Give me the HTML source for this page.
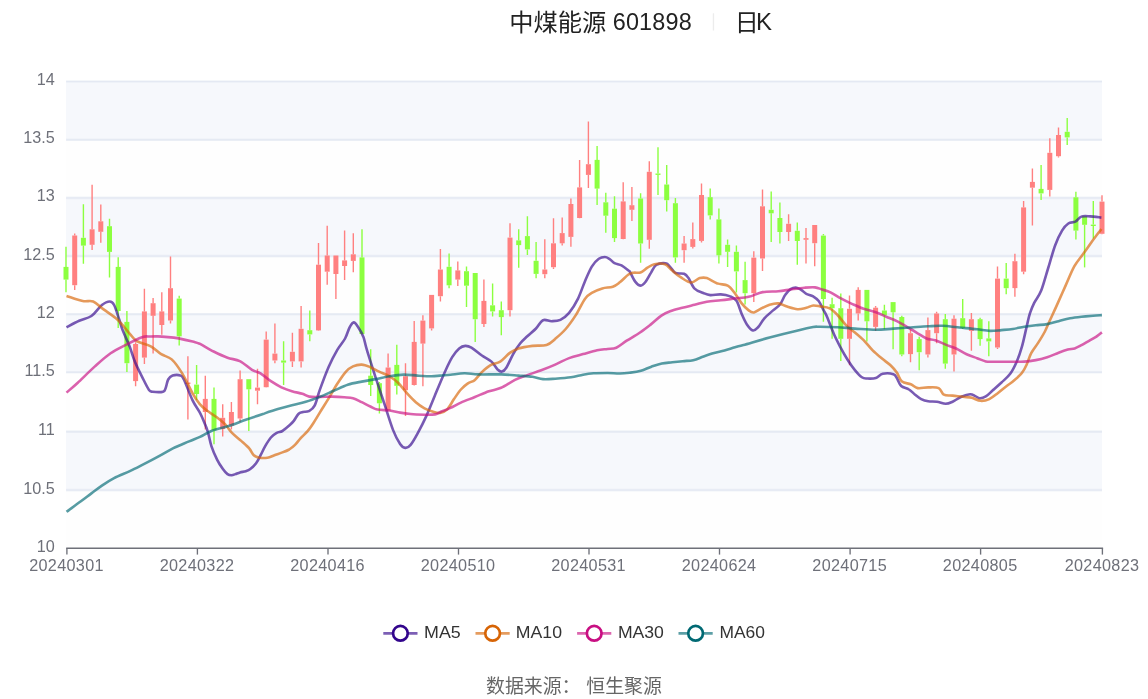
<!DOCTYPE html>
<html lang="zh"><head><meta charset="utf-8"><title>中煤能源 601898 日K</title>
<style>html,body{margin:0;padding:0;background:#fff}body{width:1148px;height:699px;overflow:hidden}svg{display:block;will-change:transform}text{font-family:"Liberation Sans","Noto Sans CJK SC",sans-serif}</style>
</head><body>
<svg width="1148" height="699" viewBox="0 0 1148 699">
<rect width="1148" height="699" fill="#fff"/>
<g id="bands">
<rect x="66.1" y="490.1" width="1035.9" height="58.1" fill="#FEFEFE"/>
<rect x="66.1" y="431.6" width="1035.9" height="58.5" fill="#F6F8FC"/>
<rect x="66.1" y="372.3" width="1035.9" height="59.3" fill="#FEFEFE"/>
<rect x="66.1" y="314.2" width="1035.9" height="58.1" fill="#F6F8FC"/>
<rect x="66.1" y="256.1" width="1035.9" height="58.1" fill="#FEFEFE"/>
<rect x="66.1" y="197.9" width="1035.9" height="58.2" fill="#F6F8FC"/>
<rect x="66.1" y="139.8" width="1035.9" height="58.1" fill="#FEFEFE"/>
<rect x="66.1" y="81.5" width="1035.9" height="58.3" fill="#F6F8FC"/>
</g>
<g id="grid" stroke="#E0E6F1">
<line x1="66.1" y1="490.1" x2="1102.0" y2="490.1" stroke-width="2.6" stroke-opacity="0.45"/>
<line x1="66.1" y1="490.1" x2="1102.0" y2="490.1" stroke-width="1.2" stroke-opacity="0.7"/>
<line x1="66.1" y1="431.6" x2="1102.0" y2="431.6" stroke-width="2.6" stroke-opacity="0.45"/>
<line x1="66.1" y1="431.6" x2="1102.0" y2="431.6" stroke-width="1.2" stroke-opacity="0.7"/>
<line x1="66.1" y1="372.3" x2="1102.0" y2="372.3" stroke-width="2.6" stroke-opacity="0.45"/>
<line x1="66.1" y1="372.3" x2="1102.0" y2="372.3" stroke-width="1.2" stroke-opacity="0.7"/>
<line x1="66.1" y1="314.2" x2="1102.0" y2="314.2" stroke-width="2.6" stroke-opacity="0.45"/>
<line x1="66.1" y1="314.2" x2="1102.0" y2="314.2" stroke-width="1.2" stroke-opacity="0.7"/>
<line x1="66.1" y1="256.1" x2="1102.0" y2="256.1" stroke-width="2.6" stroke-opacity="0.45"/>
<line x1="66.1" y1="256.1" x2="1102.0" y2="256.1" stroke-width="1.2" stroke-opacity="0.7"/>
<line x1="66.1" y1="197.9" x2="1102.0" y2="197.9" stroke-width="2.6" stroke-opacity="0.45"/>
<line x1="66.1" y1="197.9" x2="1102.0" y2="197.9" stroke-width="1.2" stroke-opacity="0.7"/>
<line x1="66.1" y1="139.8" x2="1102.0" y2="139.8" stroke-width="2.6" stroke-opacity="0.45"/>
<line x1="66.1" y1="139.8" x2="1102.0" y2="139.8" stroke-width="1.2" stroke-opacity="0.7"/>
<line x1="66.1" y1="81.5" x2="1102.0" y2="81.5" stroke-width="2.6" stroke-opacity="0.45"/>
<line x1="66.1" y1="81.5" x2="1102.0" y2="81.5" stroke-width="1.2" stroke-opacity="0.7"/>
</g>
<g id="xaxis" stroke="#6E7079" stroke-width="1.35" fill="none">
<line x1="66.2" y1="548.2" x2="1103.1" y2="548.2"/>
<line x1="66.9" y1="548.2" x2="66.9" y2="554.6"/>
<line x1="197.4" y1="548.2" x2="197.4" y2="554.6"/>
<line x1="328.0" y1="548.2" x2="328.0" y2="554.6"/>
<line x1="458.5" y1="548.2" x2="458.5" y2="554.6"/>
<line x1="589.0" y1="548.2" x2="589.0" y2="554.6"/>
<line x1="719.5" y1="548.2" x2="719.5" y2="554.6"/>
<line x1="850.1" y1="548.2" x2="850.1" y2="554.6"/>
<line x1="980.6" y1="548.2" x2="980.6" y2="554.6"/>
<line x1="1102.4" y1="548.2" x2="1102.4" y2="554.6"/>
</g>
<g id="ylabels" font-size="16.2" fill="#6E7079" text-anchor="end">
<text x="54.8" y="551.6">10</text>
<text x="54.8" y="493.5">10.5</text>
<text x="54.8" y="435.0">11</text>
<text x="54.8" y="375.7">11.5</text>
<text x="54.8" y="317.6">12</text>
<text x="54.8" y="259.5">12.5</text>
<text x="54.8" y="201.3">13</text>
<text x="54.8" y="143.2">13.5</text>
<text x="54.8" y="84.9">14</text>
</g>
<g id="xlabels" font-size="16.2" fill="#6E7079" text-anchor="middle" letter-spacing="0.33">
<text x="66.5" y="570.8">20240301</text>
<text x="197.0" y="570.8">20240322</text>
<text x="327.6" y="570.8">20240416</text>
<text x="458.1" y="570.8">20240510</text>
<text x="588.6" y="570.8">20240531</text>
<text x="719.1" y="570.8">20240624</text>
<text x="849.7" y="570.8">20240715</text>
<text x="980.2" y="570.8">20240805</text>
<text x="1102.0" y="570.8">20240823</text>
</g>
<g id="candles">
<path d="M66.0 246.8V266.9M66.0 279.6V292.2" stroke="#8CFF40" stroke-width="1.4" fill="none"/>
<rect x="63.5" y="266.9" width="5.0" height="12.7" fill="#8CFF40"/>
<path d="M74.7 233.4V235.5M74.7 285.2V289.9" stroke="#FF8080" stroke-width="1.4" fill="none"/>
<rect x="72.2" y="235.5" width="5.0" height="49.7" fill="#FF8080"/>
<path d="M83.4 204.3V237.8M83.4 245.6V263.7" stroke="#8CFF40" stroke-width="1.4" fill="none"/>
<rect x="80.9" y="237.8" width="5.0" height="7.8" fill="#8CFF40"/>
<path d="M92.1 184.8V229.3M92.1 244.8V249.9" stroke="#FF8080" stroke-width="1.4" fill="none"/>
<rect x="89.6" y="229.3" width="5.0" height="15.5" fill="#FF8080"/>
<path d="M100.8 204.5V221.3M100.8 231.8V242.7" stroke="#FF8080" stroke-width="1.4" fill="none"/>
<rect x="98.3" y="221.3" width="5.0" height="10.5" fill="#FF8080"/>
<path d="M109.5 218.7V226.2M109.5 251.9V277.4" stroke="#8CFF40" stroke-width="1.4" fill="none"/>
<rect x="107.0" y="226.2" width="5.0" height="25.7" fill="#8CFF40"/>
<path d="M118.2 257.3V266.9M118.2 311.0V328.0" stroke="#8CFF40" stroke-width="1.4" fill="none"/>
<rect x="115.7" y="266.9" width="5.0" height="44.1" fill="#8CFF40"/>
<path d="M126.9 310.9V321.9M126.9 363.2V371.9" stroke="#8CFF40" stroke-width="1.4" fill="none"/>
<rect x="124.4" y="321.9" width="5.0" height="41.3" fill="#8CFF40"/>
<path d="M135.6 342.2V344.0M135.6 381.1V386.2" stroke="#FF8080" stroke-width="1.4" fill="none"/>
<rect x="133.1" y="344.0" width="5.0" height="37.1" fill="#FF8080"/>
<path d="M144.4 288.7V311.4M144.4 357.6V364.0" stroke="#FF8080" stroke-width="1.4" fill="none"/>
<rect x="141.9" y="311.4" width="5.0" height="46.2" fill="#FF8080"/>
<path d="M153.1 298.0V303.2M153.1 315.8V353.6" stroke="#FF8080" stroke-width="1.4" fill="none"/>
<rect x="150.6" y="303.2" width="5.0" height="12.6" fill="#FF8080"/>
<path d="M161.8 292.2V311.4M161.8 325.0V334.7" stroke="#FF8080" stroke-width="1.4" fill="none"/>
<rect x="159.3" y="311.4" width="5.0" height="13.6" fill="#FF8080"/>
<path d="M170.5 256.4V288.2M170.5 320.5V323.6" stroke="#FF8080" stroke-width="1.4" fill="none"/>
<rect x="168.0" y="288.2" width="5.0" height="32.3" fill="#FF8080"/>
<path d="M179.2 295.7V298.6M179.2 336.3V345.4" stroke="#8CFF40" stroke-width="1.4" fill="none"/>
<rect x="176.7" y="298.6" width="5.0" height="37.7" fill="#8CFF40"/>
<path d="M187.9 356.2V382.5M187.9 384.0V419.4" stroke="#FF8080" stroke-width="1.4" fill="none"/>
<rect x="185.4" y="382.5" width="5.0" height="1.5" fill="#FF8080"/>
<path d="M196.6 364.9V384.6M196.6 394.0V399.9" stroke="#8CFF40" stroke-width="1.4" fill="none"/>
<rect x="194.1" y="384.6" width="5.0" height="9.4" fill="#8CFF40"/>
<path d="M205.3 375.7V398.9M205.3 412.0V429.5" stroke="#FF8080" stroke-width="1.4" fill="none"/>
<rect x="202.8" y="398.9" width="5.0" height="13.1" fill="#FF8080"/>
<path d="M214.0 387.6V398.9M214.0 430.3V444.3" stroke="#8CFF40" stroke-width="1.4" fill="none"/>
<rect x="211.5" y="398.9" width="5.0" height="31.4" fill="#8CFF40"/>
<path d="M222.7 404.2V417.8M222.7 429.1V436.5" stroke="#FF8080" stroke-width="1.4" fill="none"/>
<rect x="220.2" y="417.8" width="5.0" height="11.3" fill="#FF8080"/>
<path d="M231.4 401.9V412.0M231.4 425.6V429.5" stroke="#FF8080" stroke-width="1.4" fill="none"/>
<rect x="228.9" y="412.0" width="5.0" height="13.6" fill="#FF8080"/>
<path d="M240.1 370.5V379.2M240.1 418.5V422.1" stroke="#FF8080" stroke-width="1.4" fill="none"/>
<rect x="237.6" y="379.2" width="5.0" height="39.3" fill="#FF8080"/>
<path d="M248.8 379.2V379.2M248.8 389.3V430.9" stroke="#8CFF40" stroke-width="1.4" fill="none"/>
<rect x="246.3" y="379.2" width="5.0" height="10.1" fill="#8CFF40"/>
<path d="M257.5 368.7V387.6M257.5 390.7V404.2" stroke="#FF8080" stroke-width="1.4" fill="none"/>
<rect x="255.0" y="387.6" width="5.0" height="3.1" fill="#FF8080"/>
<path d="M266.2 331.5V339.6M266.2 387.2V387.6" stroke="#FF8080" stroke-width="1.4" fill="none"/>
<rect x="263.7" y="339.6" width="5.0" height="47.6" fill="#FF8080"/>
<path d="M274.9 323.6V353.6M274.9 360.5V363.2" stroke="#FF8080" stroke-width="1.4" fill="none"/>
<rect x="272.4" y="353.6" width="5.0" height="6.9" fill="#FF8080"/>
<path d="M283.6 341.3V360.5M283.6 362.6V385.0" stroke="#8CFF40" stroke-width="1.4" fill="none"/>
<rect x="281.1" y="360.5" width="5.0" height="2.1" fill="#8CFF40"/>
<path d="M292.4 332.7V351.8M292.4 361.4V367.0" stroke="#FF8080" stroke-width="1.4" fill="none"/>
<rect x="289.9" y="351.8" width="5.0" height="9.6" fill="#FF8080"/>
<path d="M301.1 306.1V328.8M301.1 361.4V367.5" stroke="#FF8080" stroke-width="1.4" fill="none"/>
<rect x="298.6" y="328.8" width="5.0" height="32.6" fill="#FF8080"/>
<path d="M309.8 310.6V330.2M309.8 334.4V341.3" stroke="#8CFF40" stroke-width="1.4" fill="none"/>
<rect x="307.3" y="330.2" width="5.0" height="4.2" fill="#8CFF40"/>
<path d="M318.5 242.9V264.7M318.5 330.4V330.9" stroke="#FF8080" stroke-width="1.4" fill="none"/>
<rect x="316.0" y="264.7" width="5.0" height="65.7" fill="#FF8080"/>
<path d="M327.2 225.8V255.5M327.2 271.7V284.8" stroke="#FF8080" stroke-width="1.4" fill="none"/>
<rect x="324.7" y="255.5" width="5.0" height="16.2" fill="#FF8080"/>
<path d="M335.9 255.5V255.5M335.9 274.0V299.1" stroke="#FF8080" stroke-width="1.4" fill="none"/>
<rect x="333.4" y="255.5" width="5.0" height="18.5" fill="#FF8080"/>
<path d="M344.6 230.4V260.4M344.6 266.0V279.9" stroke="#FF8080" stroke-width="1.4" fill="none"/>
<rect x="342.1" y="260.4" width="5.0" height="5.6" fill="#FF8080"/>
<path d="M353.3 233.3V254.3M353.3 260.9V272.2" stroke="#FF8080" stroke-width="1.4" fill="none"/>
<rect x="350.8" y="254.3" width="5.0" height="6.6" fill="#FF8080"/>
<path d="M362.0 229.3V257.4M362.0 334.0V334.4" stroke="#8CFF40" stroke-width="1.4" fill="none"/>
<rect x="359.5" y="257.4" width="5.0" height="76.6" fill="#8CFF40"/>
<path d="M370.7 349.2V375.7M370.7 385.0V396.0" stroke="#8CFF40" stroke-width="1.4" fill="none"/>
<rect x="368.2" y="375.7" width="5.0" height="9.3" fill="#8CFF40"/>
<path d="M379.4 382.0V383.2M379.4 403.3V413.4" stroke="#8CFF40" stroke-width="1.4" fill="none"/>
<rect x="376.9" y="383.2" width="5.0" height="20.1" fill="#8CFF40"/>
<path d="M388.1 353.6V367.5M388.1 410.6V411.0" stroke="#FF8080" stroke-width="1.4" fill="none"/>
<rect x="385.6" y="367.5" width="5.0" height="43.1" fill="#FF8080"/>
<path d="M396.8 344.8V364.9M396.8 385.8V394.6" stroke="#8CFF40" stroke-width="1.4" fill="none"/>
<rect x="394.3" y="364.9" width="5.0" height="20.9" fill="#8CFF40"/>
<path d="M405.5 363.2V376.2M405.5 390.2V415.9" stroke="#FF8080" stroke-width="1.4" fill="none"/>
<rect x="403.0" y="376.2" width="5.0" height="14.0" fill="#FF8080"/>
<path d="M414.2 321.1V341.9M414.2 385.0V385.5" stroke="#FF8080" stroke-width="1.4" fill="none"/>
<rect x="411.7" y="341.9" width="5.0" height="43.1" fill="#FF8080"/>
<path d="M422.9 315.3V320.6M422.9 343.6V386.2" stroke="#FF8080" stroke-width="1.4" fill="none"/>
<rect x="420.4" y="320.6" width="5.0" height="23.0" fill="#FF8080"/>
<path d="M431.6 294.9V294.9M431.6 328.4V330.5" stroke="#FF8080" stroke-width="1.4" fill="none"/>
<rect x="429.1" y="294.9" width="5.0" height="33.5" fill="#FF8080"/>
<path d="M440.4 249.0V269.5M440.4 296.2V301.4" stroke="#FF8080" stroke-width="1.4" fill="none"/>
<rect x="437.9" y="269.5" width="5.0" height="26.7" fill="#FF8080"/>
<path d="M449.1 253.4V266.8M449.1 285.3V288.3" stroke="#8CFF40" stroke-width="1.4" fill="none"/>
<rect x="446.6" y="266.8" width="5.0" height="18.5" fill="#8CFF40"/>
<path d="M457.8 261.6V270.4M457.8 279.6V286.1" stroke="#FF8080" stroke-width="1.4" fill="none"/>
<rect x="455.3" y="270.4" width="5.0" height="9.2" fill="#FF8080"/>
<path d="M466.5 266.5V271.2M466.5 285.7V307.0" stroke="#8CFF40" stroke-width="1.4" fill="none"/>
<rect x="464.0" y="271.2" width="5.0" height="14.5" fill="#8CFF40"/>
<path d="M475.2 273.0V273.0M475.2 319.2V341.9" stroke="#8CFF40" stroke-width="1.4" fill="none"/>
<rect x="472.7" y="273.0" width="5.0" height="46.2" fill="#8CFF40"/>
<path d="M483.9 279.5V300.9M483.9 324.0V327.1" stroke="#FF8080" stroke-width="1.4" fill="none"/>
<rect x="481.4" y="300.9" width="5.0" height="23.1" fill="#FF8080"/>
<path d="M492.6 283.5V305.3M492.6 311.4V316.6" stroke="#8CFF40" stroke-width="1.4" fill="none"/>
<rect x="490.1" y="305.3" width="5.0" height="6.1" fill="#8CFF40"/>
<path d="M501.3 301.4V310.2M501.3 317.1V335.3" stroke="#8CFF40" stroke-width="1.4" fill="none"/>
<rect x="498.8" y="310.2" width="5.0" height="6.9" fill="#8CFF40"/>
<path d="M510.0 223.2V237.6M510.0 310.2V316.6" stroke="#FF8080" stroke-width="1.4" fill="none"/>
<rect x="507.5" y="237.6" width="5.0" height="72.6" fill="#FF8080"/>
<path d="M518.7 229.3V240.4M518.7 245.1V267.8" stroke="#8CFF40" stroke-width="1.4" fill="none"/>
<rect x="516.2" y="240.4" width="5.0" height="4.7" fill="#8CFF40"/>
<path d="M527.4 216.2V236.1M527.4 249.4V255.0" stroke="#8CFF40" stroke-width="1.4" fill="none"/>
<rect x="524.9" y="236.1" width="5.0" height="13.3" fill="#8CFF40"/>
<path d="M536.1 242.1V260.8M536.1 273.9V278.2" stroke="#8CFF40" stroke-width="1.4" fill="none"/>
<rect x="533.6" y="260.8" width="5.0" height="13.1" fill="#8CFF40"/>
<path d="M544.8 239.3V269.5M544.8 274.2V278.2" stroke="#FF8080" stroke-width="1.4" fill="none"/>
<rect x="542.3" y="269.5" width="5.0" height="4.7" fill="#FF8080"/>
<path d="M553.5 218.3V243.3M553.5 267.2V269.0" stroke="#FF8080" stroke-width="1.4" fill="none"/>
<rect x="551.0" y="243.3" width="5.0" height="23.9" fill="#FF8080"/>
<path d="M562.2 217.6V233.1M562.2 243.3V245.6" stroke="#FF8080" stroke-width="1.4" fill="none"/>
<rect x="559.7" y="233.1" width="5.0" height="10.2" fill="#FF8080"/>
<path d="M570.9 198.4V204.0M570.9 236.9V246.8" stroke="#FF8080" stroke-width="1.4" fill="none"/>
<rect x="568.4" y="204.0" width="5.0" height="32.9" fill="#FF8080"/>
<path d="M579.6 160.0V187.4M579.6 218.0V218.3" stroke="#FF8080" stroke-width="1.4" fill="none"/>
<rect x="577.1" y="187.4" width="5.0" height="30.6" fill="#FF8080"/>
<path d="M588.4 121.6V164.2M588.4 174.9V187.9" stroke="#FF8080" stroke-width="1.4" fill="none"/>
<rect x="585.9" y="164.2" width="5.0" height="10.7" fill="#FF8080"/>
<path d="M597.1 146.1V159.9M597.1 188.6V204.9" stroke="#8CFF40" stroke-width="1.4" fill="none"/>
<rect x="594.6" y="159.9" width="5.0" height="28.7" fill="#8CFF40"/>
<path d="M605.8 192.7V202.3M605.8 215.7V232.8" stroke="#8CFF40" stroke-width="1.4" fill="none"/>
<rect x="603.3" y="202.3" width="5.0" height="13.4" fill="#8CFF40"/>
<path d="M614.5 196.2V208.7M614.5 238.1V242.1" stroke="#8CFF40" stroke-width="1.4" fill="none"/>
<rect x="612.0" y="208.7" width="5.0" height="29.4" fill="#8CFF40"/>
<path d="M623.2 182.2V201.4M623.2 239.0V239.3" stroke="#FF8080" stroke-width="1.4" fill="none"/>
<rect x="620.7" y="201.4" width="5.0" height="37.6" fill="#FF8080"/>
<path d="M631.9 186.9V205.2M631.9 209.8V220.9" stroke="#FF8080" stroke-width="1.4" fill="none"/>
<rect x="629.4" y="205.2" width="5.0" height="4.6" fill="#FF8080"/>
<path d="M640.6 193.2V198.5M640.6 243.5V262.7" stroke="#8CFF40" stroke-width="1.4" fill="none"/>
<rect x="638.1" y="198.5" width="5.0" height="45.0" fill="#8CFF40"/>
<path d="M649.3 161.3V171.8M649.3 239.8V248.7" stroke="#FF8080" stroke-width="1.4" fill="none"/>
<rect x="646.8" y="171.8" width="5.0" height="68.0" fill="#FF8080"/>
<path d="M658.0 147.3V173.5M658.0 174.9V195.0" stroke="#8CFF40" stroke-width="1.4" fill="none"/>
<rect x="655.5" y="173.5" width="5.0" height="1.4" fill="#8CFF40"/>
<path d="M666.7 165.0V184.5M666.7 200.2V211.6" stroke="#8CFF40" stroke-width="1.4" fill="none"/>
<rect x="664.2" y="184.5" width="5.0" height="15.7" fill="#8CFF40"/>
<path d="M675.4 197.9V203.2M675.4 257.4V262.7" stroke="#8CFF40" stroke-width="1.4" fill="none"/>
<rect x="672.9" y="203.2" width="5.0" height="54.2" fill="#8CFF40"/>
<path d="M684.1 236.0V243.5M684.1 250.2V262.7" stroke="#FF8080" stroke-width="1.4" fill="none"/>
<rect x="681.6" y="243.5" width="5.0" height="6.7" fill="#FF8080"/>
<path d="M692.8 222.4V239.1M692.8 246.9V248.5" stroke="#FF8080" stroke-width="1.4" fill="none"/>
<rect x="690.3" y="239.1" width="5.0" height="7.8" fill="#FF8080"/>
<path d="M701.5 183.6V195.0M701.5 240.9V242.5" stroke="#FF8080" stroke-width="1.4" fill="none"/>
<rect x="699.0" y="195.0" width="5.0" height="45.9" fill="#FF8080"/>
<path d="M710.2 188.5V197.2M710.2 215.4V219.4" stroke="#8CFF40" stroke-width="1.4" fill="none"/>
<rect x="707.7" y="197.2" width="5.0" height="18.2" fill="#8CFF40"/>
<path d="M718.9 208.4V219.4M718.9 255.3V263.6" stroke="#8CFF40" stroke-width="1.4" fill="none"/>
<rect x="716.4" y="219.4" width="5.0" height="35.9" fill="#8CFF40"/>
<path d="M727.6 239.5V244.8M727.6 251.8V267.0" stroke="#8CFF40" stroke-width="1.4" fill="none"/>
<rect x="725.1" y="244.8" width="5.0" height="7.0" fill="#8CFF40"/>
<path d="M736.4 245.6V251.8M736.4 271.4V292.4" stroke="#8CFF40" stroke-width="1.4" fill="none"/>
<rect x="733.9" y="251.8" width="5.0" height="19.6" fill="#8CFF40"/>
<path d="M745.1 261.8V280.1M745.1 293.2V304.6" stroke="#8CFF40" stroke-width="1.4" fill="none"/>
<rect x="742.6" y="280.1" width="5.0" height="13.1" fill="#8CFF40"/>
<path d="M753.8 251.3V257.6M753.8 293.2V302.0" stroke="#FF8080" stroke-width="1.4" fill="none"/>
<rect x="751.3" y="257.6" width="5.0" height="35.6" fill="#FF8080"/>
<path d="M762.5 189.4V206.3M762.5 258.5V271.1" stroke="#FF8080" stroke-width="1.4" fill="none"/>
<rect x="760.0" y="206.3" width="5.0" height="52.2" fill="#FF8080"/>
<path d="M771.2 191.5V209.8M771.2 213.3V242.0" stroke="#8CFF40" stroke-width="1.4" fill="none"/>
<rect x="768.7" y="209.8" width="5.0" height="3.5" fill="#8CFF40"/>
<path d="M779.9 202.5V218.0M779.9 232.0V243.6" stroke="#8CFF40" stroke-width="1.4" fill="none"/>
<rect x="777.4" y="218.0" width="5.0" height="14.0" fill="#8CFF40"/>
<path d="M788.6 214.2V223.8M788.6 232.0V240.9" stroke="#FF8080" stroke-width="1.4" fill="none"/>
<rect x="786.1" y="223.8" width="5.0" height="8.2" fill="#FF8080"/>
<path d="M797.3 222.4V230.8M797.3 241.0V264.8" stroke="#8CFF40" stroke-width="1.4" fill="none"/>
<rect x="794.8" y="230.8" width="5.0" height="10.2" fill="#8CFF40"/>
<path d="M806.0 228.1V238.1M806.0 239.8V263.6" stroke="#FF8080" stroke-width="1.4" fill="none"/>
<rect x="803.5" y="238.1" width="5.0" height="1.7" fill="#FF8080"/>
<path d="M814.7 225.0V225.0M814.7 243.2V266.2" stroke="#FF8080" stroke-width="1.4" fill="none"/>
<rect x="812.2" y="225.0" width="5.0" height="18.2" fill="#FF8080"/>
<path d="M823.4 233.9V235.6M823.4 299.0V321.7" stroke="#8CFF40" stroke-width="1.4" fill="none"/>
<rect x="820.9" y="235.6" width="5.0" height="63.4" fill="#8CFF40"/>
<path d="M832.1 297.8V304.2M832.1 308.2V338.8" stroke="#8CFF40" stroke-width="1.4" fill="none"/>
<rect x="829.6" y="304.2" width="5.0" height="4.0" fill="#8CFF40"/>
<path d="M840.8 293.4V308.2M840.8 338.8V361.1" stroke="#8CFF40" stroke-width="1.4" fill="none"/>
<rect x="838.3" y="308.2" width="5.0" height="30.6" fill="#8CFF40"/>
<path d="M849.5 295.5V308.8M849.5 338.8V365.3" stroke="#FF8080" stroke-width="1.4" fill="none"/>
<rect x="847.0" y="308.8" width="5.0" height="30.0" fill="#FF8080"/>
<path d="M858.2 287.3V289.9M858.2 313.5V320.5" stroke="#FF8080" stroke-width="1.4" fill="none"/>
<rect x="855.7" y="289.9" width="5.0" height="23.6" fill="#FF8080"/>
<path d="M866.9 289.9V289.9M866.9 321.3V341.4" stroke="#8CFF40" stroke-width="1.4" fill="none"/>
<rect x="864.4" y="289.9" width="5.0" height="31.4" fill="#8CFF40"/>
<path d="M875.6 306.0V307.7M875.6 326.9V330.9" stroke="#FF8080" stroke-width="1.4" fill="none"/>
<rect x="873.1" y="307.7" width="5.0" height="19.2" fill="#FF8080"/>
<path d="M884.4 304.8V310.5M884.4 315.2V329.2" stroke="#8CFF40" stroke-width="1.4" fill="none"/>
<rect x="881.9" y="310.5" width="5.0" height="4.7" fill="#8CFF40"/>
<path d="M893.1 302.1V302.1M893.1 312.3V349.3" stroke="#8CFF40" stroke-width="1.4" fill="none"/>
<rect x="890.6" y="302.1" width="5.0" height="10.2" fill="#8CFF40"/>
<path d="M901.8 315.8V317.0M901.8 354.5V356.2" stroke="#8CFF40" stroke-width="1.4" fill="none"/>
<rect x="899.3" y="317.0" width="5.0" height="37.5" fill="#8CFF40"/>
<path d="M910.5 329.2V333.2M910.5 354.1V362.3" stroke="#FF8080" stroke-width="1.4" fill="none"/>
<rect x="908.0" y="333.2" width="5.0" height="20.9" fill="#FF8080"/>
<path d="M919.2 336.7V339.1M919.2 352.2V370.2" stroke="#8CFF40" stroke-width="1.4" fill="none"/>
<rect x="916.7" y="339.1" width="5.0" height="13.1" fill="#8CFF40"/>
<path d="M927.9 317.5V330.1M927.9 354.5V357.6" stroke="#FF8080" stroke-width="1.4" fill="none"/>
<rect x="925.4" y="330.1" width="5.0" height="24.4" fill="#FF8080"/>
<path d="M936.6 311.7V313.5M936.6 333.2V343.2" stroke="#FF8080" stroke-width="1.4" fill="none"/>
<rect x="934.1" y="313.5" width="5.0" height="19.7" fill="#FF8080"/>
<path d="M945.3 314.0V319.2M945.3 363.6V368.8" stroke="#8CFF40" stroke-width="1.4" fill="none"/>
<rect x="942.8" y="319.2" width="5.0" height="44.4" fill="#8CFF40"/>
<path d="M954.0 315.2V318.7M954.0 354.5V371.6" stroke="#FF8080" stroke-width="1.4" fill="none"/>
<rect x="951.5" y="318.7" width="5.0" height="35.8" fill="#FF8080"/>
<path d="M962.7 299.0V318.2M962.7 328.0V329.0" stroke="#8CFF40" stroke-width="1.4" fill="none"/>
<rect x="960.2" y="318.2" width="5.0" height="9.8" fill="#8CFF40"/>
<path d="M971.4 313.0V319.2M971.4 330.9V350.7" stroke="#FF8080" stroke-width="1.4" fill="none"/>
<rect x="968.9" y="319.2" width="5.0" height="11.7" fill="#FF8080"/>
<path d="M980.1 317.8V319.2M980.1 339.1V345.8" stroke="#8CFF40" stroke-width="1.4" fill="none"/>
<rect x="977.6" y="319.2" width="5.0" height="19.9" fill="#8CFF40"/>
<path d="M988.8 321.3V338.4M988.8 341.4V356.2" stroke="#8CFF40" stroke-width="1.4" fill="none"/>
<rect x="986.3" y="338.4" width="5.0" height="3.0" fill="#8CFF40"/>
<path d="M997.5 266.4V278.6M997.5 347.5V348.9" stroke="#FF8080" stroke-width="1.4" fill="none"/>
<rect x="995.0" y="278.6" width="5.0" height="68.9" fill="#FF8080"/>
<path d="M1006.2 262.9V278.6M1006.2 288.2V294.3" stroke="#8CFF40" stroke-width="1.4" fill="none"/>
<rect x="1003.7" y="278.6" width="5.0" height="9.6" fill="#8CFF40"/>
<path d="M1014.9 253.7V261.2M1014.9 288.1V296.8" stroke="#FF8080" stroke-width="1.4" fill="none"/>
<rect x="1012.4" y="261.2" width="5.0" height="26.9" fill="#FF8080"/>
<path d="M1023.6 201.1V207.4M1023.6 271.7V274.3" stroke="#FF8080" stroke-width="1.4" fill="none"/>
<rect x="1021.1" y="207.4" width="5.0" height="64.3" fill="#FF8080"/>
<path d="M1032.4 168.5V181.9M1032.4 187.7V225.6" stroke="#FF8080" stroke-width="1.4" fill="none"/>
<rect x="1029.9" y="181.9" width="5.0" height="5.8" fill="#FF8080"/>
<path d="M1041.1 165.0V188.9M1041.1 193.4V199.9" stroke="#8CFF40" stroke-width="1.4" fill="none"/>
<rect x="1038.6" y="188.9" width="5.0" height="4.5" fill="#8CFF40"/>
<path d="M1049.8 138.3V152.8M1049.8 189.9V196.4" stroke="#FF8080" stroke-width="1.4" fill="none"/>
<rect x="1047.3" y="152.8" width="5.0" height="37.1" fill="#FF8080"/>
<path d="M1058.5 127.5V135.0M1058.5 156.2V157.5" stroke="#FF8080" stroke-width="1.4" fill="none"/>
<rect x="1056.0" y="135.0" width="5.0" height="21.2" fill="#FF8080"/>
<path d="M1067.2 117.9V131.8M1067.2 137.4V144.9" stroke="#8CFF40" stroke-width="1.4" fill="none"/>
<rect x="1064.7" y="131.8" width="5.0" height="5.6" fill="#8CFF40"/>
<path d="M1075.9 191.7V197.3M1075.9 230.6V239.4" stroke="#8CFF40" stroke-width="1.4" fill="none"/>
<rect x="1073.4" y="197.3" width="5.0" height="33.3" fill="#8CFF40"/>
<path d="M1084.6 216.3V216.3M1084.6 224.8V267.4" stroke="#8CFF40" stroke-width="1.4" fill="none"/>
<rect x="1082.1" y="216.3" width="5.0" height="8.5" fill="#8CFF40"/>
<path d="M1093.3 201.1V224.6M1093.3 226.0V238.6" stroke="#8CFF40" stroke-width="1.4" fill="none"/>
<rect x="1090.8" y="224.6" width="5.0" height="1.4" fill="#8CFF40"/>
<path d="M1102.0 195.2V201.6M1102.0 233.8V234.2" stroke="#FF8080" stroke-width="1.4" fill="none"/>
<rect x="1099.5" y="201.6" width="5.0" height="32.2" fill="#FF8080"/>
</g>
<g id="ma" fill="none" stroke-width="2.6" stroke-linejoin="round" stroke-linecap="butt" stroke-opacity="0.66" transform="translate(0,0.6)">
<path d="M66.5 326.7C68.6 325.6 75.0 322.0 79.2 320.1C83.4 318.2 87.6 318.0 91.4 315.4C95.2 312.8 98.9 306.8 101.9 304.4C105.0 302.0 107.7 300.9 109.7 300.9C111.7 300.9 112.5 301.3 114.1 304.4C115.7 307.4 117.8 314.9 119.3 319.2C120.8 323.5 121.0 325.5 122.8 330.0C124.5 334.5 127.8 341.1 129.8 346.3C131.8 351.5 132.7 355.8 135.0 361.4C137.3 367.0 141.5 375.0 143.8 379.7C146.1 384.4 147.6 387.4 149.0 389.3C150.4 391.2 150.2 390.8 152.5 391.1C154.8 391.4 160.8 391.7 163.0 391.1C165.2 390.5 164.7 389.6 165.6 387.6C166.5 385.6 167.0 381.0 168.2 378.9C169.4 376.8 170.6 375.7 172.6 375.0C174.6 374.3 178.5 374.2 180.4 374.9C182.3 375.5 181.9 374.8 183.9 378.9C185.9 383.0 189.9 394.2 192.6 399.8C195.3 405.4 198.0 408.5 200.0 412.3C202.0 416.1 203.3 419.4 204.6 422.6C205.9 425.8 206.9 427.9 208.0 431.7C209.1 435.5 209.9 440.9 211.4 445.5C212.9 450.1 215.3 455.4 217.2 459.2C219.1 463.0 221.2 466.0 222.9 468.4C224.6 470.8 226.1 472.5 227.5 473.5C228.9 474.5 230.2 474.6 231.5 474.6C232.8 474.6 234.1 474.0 235.5 473.5C236.9 473.0 238.3 472.3 240.0 471.8C241.7 471.3 244.1 471.2 245.8 470.6C247.5 470.0 248.6 469.7 250.3 468.4C252.0 467.1 254.4 464.9 256.1 462.6C257.8 460.3 259.1 457.5 260.6 454.6C262.1 451.8 263.5 448.4 265.2 445.5C266.9 442.6 269.0 439.1 270.9 436.9C272.8 434.7 274.8 433.4 276.7 432.3C278.6 431.2 280.3 431.6 282.4 430.4C284.5 429.2 287.3 426.6 289.2 424.9C291.1 423.2 292.3 422.2 293.8 420.3C295.3 418.4 296.9 414.9 298.4 413.4C299.9 411.9 301.3 411.9 303.0 411.4C304.7 410.9 306.8 411.7 308.7 410.6C310.6 409.5 312.8 408.6 314.6 405.0C316.5 401.4 317.5 395.7 319.8 389.3C322.1 382.9 325.6 373.3 328.5 366.6C331.4 359.9 334.5 354.0 337.3 349.2C340.1 344.4 343.1 341.6 345.1 337.9C347.1 334.2 348.1 329.7 349.5 327.0C350.9 324.3 352.4 321.9 353.8 321.8C355.2 321.8 356.6 324.3 358.2 326.7C359.8 329.1 361.9 332.6 363.4 336.3C364.8 340.1 364.8 342.4 366.9 349.2C368.9 356.0 372.8 368.1 375.7 377.1C378.6 386.1 381.5 394.6 384.4 403.3C387.3 412.0 390.5 422.8 393.1 429.5C395.7 436.2 398.1 440.4 400.1 443.4C402.1 446.4 403.6 447.1 405.3 447.3C407.1 447.5 408.6 446.7 410.6 444.3C412.6 441.9 414.9 437.8 417.5 433.0C420.1 428.2 423.4 421.9 426.3 415.5C429.2 409.1 431.9 402.1 435.0 394.6C438.1 387.1 442.3 376.9 445.2 370.6C448.1 364.3 449.9 360.4 452.2 356.6C454.5 352.8 457.0 349.8 459.2 347.9C461.4 346.0 463.3 345.4 465.3 345.3C467.3 345.2 468.6 345.4 471.4 347.0C474.2 348.6 478.5 352.6 481.9 354.9C485.2 357.2 488.9 358.7 491.5 361.0C494.1 363.3 495.9 367.2 497.6 368.9C499.4 370.6 500.6 371.3 502.0 371.0C503.4 370.7 504.4 370.1 506.3 367.1C508.2 364.1 511.0 357.3 513.3 353.2C515.6 349.1 518.0 345.6 520.3 342.7C522.6 339.8 524.7 338.2 527.3 335.7C529.9 333.2 533.4 330.6 536.0 327.9C538.6 325.2 540.4 320.8 543.0 319.6C545.6 318.4 548.8 320.7 551.7 320.6C554.6 320.5 557.5 320.6 560.4 319.2C563.3 317.8 566.2 315.8 569.1 312.3C572.0 308.8 575.3 303.6 577.9 298.3C580.5 293.1 582.6 286.2 584.9 280.8C587.2 275.4 589.5 269.8 591.8 266.0C594.1 262.2 596.6 259.8 598.8 258.2C601.0 256.6 603.1 256.4 604.9 256.4C606.6 256.4 607.7 257.2 609.3 258.2C610.9 259.2 612.5 261.4 614.5 262.5C616.5 263.6 619.2 263.6 621.5 264.8C623.8 266.1 627.1 268.9 628.5 270.0C629.9 271.1 628.9 269.6 630.0 271.4C631.1 273.2 633.4 278.7 635.2 281.0C637.0 283.3 639.0 285.0 640.8 285.0C642.5 285.0 644.0 283.1 645.7 281.0C647.4 278.9 649.1 275.1 650.9 272.3C652.6 269.5 653.7 266.0 656.2 264.4C658.7 262.8 663.5 262.4 665.8 262.7C668.1 263.0 668.5 264.6 670.1 266.2C671.7 267.8 673.1 271.1 675.4 272.3C677.7 273.5 681.9 272.3 684.1 273.2C686.3 274.1 686.8 275.0 688.5 277.5C690.2 280.0 692.1 285.5 694.6 288.0C697.1 290.5 700.7 291.3 703.3 292.4C705.9 293.5 707.4 294.3 710.3 294.5C713.2 294.7 717.6 293.6 720.8 293.8C724.0 294.0 726.9 294.4 729.5 295.5C732.1 296.6 734.5 297.2 736.5 300.2C738.5 303.2 740.0 309.4 741.7 313.3C743.4 317.2 745.0 321.0 746.9 323.8C748.8 326.6 751.1 329.5 753.0 329.9C754.9 330.3 756.4 328.4 758.3 326.4C760.2 324.4 761.9 320.5 764.4 317.7C766.9 314.9 770.5 312.1 773.1 309.8C775.7 307.5 778.1 306.3 780.1 303.7C782.1 301.1 783.5 296.6 785.3 294.1C787.0 291.6 788.7 289.7 790.6 288.5C792.5 287.3 794.8 286.9 796.7 287.1C798.6 287.3 800.3 288.7 801.9 289.7C803.5 290.7 804.4 292.2 806.3 293.2C808.2 294.2 811.2 294.6 813.2 295.8C815.2 297.0 816.8 297.9 818.5 300.2C820.2 302.5 822.3 307.1 823.7 309.8C825.1 312.5 825.3 312.1 827.0 316.1C828.7 320.1 831.7 328.4 834.0 333.6C836.3 338.8 838.6 343.1 840.9 347.5C843.2 351.9 845.6 356.0 847.9 359.7C850.2 363.4 852.6 366.7 854.9 369.5C857.2 372.3 859.9 375.3 861.9 376.7C863.9 378.1 864.8 377.8 867.1 377.9C869.4 378.0 873.2 378.2 875.8 377.4C878.4 376.6 879.9 373.8 882.8 373.2C885.7 372.6 891.0 372.9 893.3 373.6C895.6 374.3 895.5 375.4 896.8 377.4C898.1 379.4 899.2 383.5 901.2 385.4C903.2 387.3 906.7 387.4 909.0 388.9C911.3 390.3 913.1 392.5 915.1 394.1C917.1 395.7 919.0 397.4 921.2 398.5C923.4 399.6 925.6 400.3 928.2 400.7C930.8 401.1 934.0 400.7 936.9 401.1C939.8 401.5 943.1 403.2 945.7 403.2C948.3 403.2 950.0 402.3 952.6 401.1C955.2 399.9 958.5 397.4 961.4 396.2C964.3 394.9 967.8 393.7 970.1 393.6C972.4 393.5 973.7 394.8 975.3 395.5C976.9 396.2 978.0 397.6 979.7 397.6C981.5 397.7 983.6 397.1 985.8 395.8C988.0 394.5 990.2 392.0 992.8 389.7C995.4 387.4 998.6 384.6 1001.5 381.9C1004.4 379.1 1007.6 376.8 1010.2 373.2C1012.8 369.6 1014.9 365.2 1016.9 360.6C1018.9 356.0 1020.4 351.5 1022.0 345.8C1023.6 340.1 1025.3 331.8 1026.6 326.3C1027.9 320.8 1028.7 316.6 1030.0 312.6C1031.3 308.6 1032.3 306.1 1034.2 302.3C1036.1 298.5 1038.9 295.8 1041.2 290.0C1043.5 284.2 1045.9 274.9 1048.2 267.4C1050.5 259.8 1052.9 251.0 1055.2 244.7C1057.5 238.4 1060.0 233.4 1062.2 229.8C1064.4 226.2 1066.1 224.4 1068.3 222.9C1070.5 221.4 1073.1 222.2 1075.3 221.1C1077.5 219.9 1078.9 216.9 1081.4 216.0C1083.9 215.1 1086.8 215.6 1090.1 215.8C1093.4 216.0 1099.5 216.8 1101.4 217.0" stroke="#32058C"/>
<path d="M66.5 295.3C69.2 296.1 78.2 299.5 82.7 300.4C87.2 301.3 89.7 299.5 93.2 300.9C96.7 302.3 99.5 305.8 103.6 308.8C107.7 311.9 113.2 315.1 117.6 319.2C122.0 323.3 126.6 329.6 129.8 333.2C133.0 336.8 133.3 338.4 136.8 340.5C140.3 342.6 146.7 343.5 150.8 345.7C154.9 347.9 157.7 351.4 161.2 353.6C164.7 355.8 168.2 355.6 171.7 358.8C175.2 362.0 178.7 367.1 182.2 372.8C185.7 378.5 189.7 387.7 192.6 392.8C195.5 397.9 197.2 400.4 199.6 403.3C202.0 406.2 204.0 407.7 206.9 410.0C209.8 412.3 214.1 414.6 217.2 416.9C220.2 419.2 222.7 421.1 225.2 423.7C227.7 426.3 229.3 429.5 232.0 432.3C234.7 435.1 238.3 437.7 241.2 440.3C244.1 442.9 247.1 445.4 249.2 447.8C251.3 450.2 252.1 453.1 253.8 454.6C255.5 456.2 257.2 456.7 259.5 457.1C261.8 457.5 265.0 457.5 267.5 457.1C270.0 456.7 271.9 455.5 274.4 454.6C276.9 453.7 279.9 452.8 282.4 451.8C284.9 450.9 287.1 450.1 289.2 448.9C291.3 447.6 293.1 446.2 295.0 444.3C296.9 442.4 298.6 439.8 300.7 437.5C302.8 435.2 305.5 433.1 307.6 430.6C309.7 428.1 311.3 425.7 313.3 422.6C315.3 419.5 317.3 416.1 319.8 412.0C322.3 407.9 325.6 402.9 328.5 398.1C331.4 393.3 334.4 387.7 337.3 383.2C340.2 378.7 343.4 373.9 346.0 371.0C348.6 368.1 350.4 367.0 353.0 365.8C355.6 364.6 358.8 363.9 361.7 364.0C364.6 364.1 367.5 365.4 370.4 366.6C373.3 367.8 375.9 369.5 379.1 371.0C382.3 372.5 386.4 373.8 389.6 375.7C392.8 377.6 395.4 379.5 398.3 382.4C401.2 385.2 404.2 389.6 407.1 392.8C410.0 396.0 412.9 399.1 415.8 401.6C418.7 404.1 421.6 406.1 424.5 407.7C427.4 409.3 430.6 410.4 433.2 411.2C435.8 412.0 437.7 412.7 440.0 412.3C442.3 411.9 444.7 411.3 447.0 409.0C449.3 406.7 451.7 401.9 454.0 398.5C456.3 395.1 458.6 391.5 460.9 388.9C463.2 386.3 465.6 384.4 467.9 382.8C470.2 381.2 472.6 381.2 474.9 379.3C477.2 377.4 479.3 374.0 481.9 371.5C484.5 369.0 487.6 366.2 490.6 364.5C493.7 362.8 497.0 363.0 500.2 361.0C503.4 359.0 506.8 354.5 509.8 352.3C512.9 350.1 514.7 349.1 518.5 347.9C522.3 346.7 527.8 345.9 532.5 345.3C537.2 344.7 542.7 345.6 546.5 344.4C550.3 343.2 552.0 341.0 555.2 338.3C558.4 335.6 562.2 332.4 565.7 328.4C569.2 324.3 572.9 319.0 576.1 314.0C579.3 309.0 582.3 301.9 584.9 298.3C587.5 294.7 588.9 293.9 591.8 292.2C594.7 290.4 598.8 288.8 602.3 287.8C605.8 286.8 609.9 287.1 612.8 286.1C615.7 285.1 617.2 283.7 619.8 281.7C622.4 279.7 626.2 275.5 628.5 273.9C630.8 272.3 631.7 272.5 633.7 272.1C635.7 271.8 638.2 272.6 640.5 271.8C642.8 271.0 645.2 268.5 647.5 267.1C649.8 265.7 651.5 264.2 654.4 263.6C657.3 263.0 662.0 262.6 664.9 263.6C667.8 264.6 669.3 267.5 671.9 269.7C674.5 271.9 677.4 274.6 680.6 276.6C683.8 278.6 687.9 281.8 691.1 281.9C694.3 282.0 697.2 278.2 699.8 277.5C702.4 276.8 703.9 276.6 706.8 277.5C709.7 278.4 713.8 281.6 717.3 282.8C720.8 284.1 724.8 283.4 727.7 285.0C730.6 286.6 732.4 289.4 734.7 292.4C737.0 295.4 739.4 299.9 741.7 302.8C744.0 305.7 746.7 308.3 748.7 309.8C750.7 311.3 751.9 312.2 753.9 311.9C755.9 311.6 758.3 309.4 760.9 308.1C763.5 306.8 766.7 305.1 769.6 304.2C772.5 303.3 775.4 302.5 778.3 302.8C781.2 303.1 783.9 305.0 787.1 306.0C790.3 307.0 794.3 308.4 797.5 308.6C800.7 308.8 803.7 307.8 806.3 307.2C808.9 306.6 810.9 305.1 813.2 304.9C815.5 304.7 817.5 305.3 820.2 305.8C822.9 306.3 826.7 306.3 829.6 307.7C832.5 309.1 834.7 311.5 837.5 314.4C840.3 317.2 843.3 321.9 846.2 324.8C849.1 327.7 852.0 329.4 854.9 331.8C857.8 334.2 860.7 336.6 863.6 339.5C866.5 342.4 869.3 346.4 872.4 349.5C875.5 352.6 879.0 355.5 882.0 358.0C885.0 360.5 888.0 362.4 890.5 364.7C893.0 367.0 894.9 369.3 896.8 372.0C898.7 374.7 899.7 379.1 902.0 381.0C904.3 382.9 908.2 382.5 910.8 383.6C913.4 384.7 914.8 387.0 917.7 387.5C920.6 388.0 924.7 386.8 928.2 386.8C931.7 386.8 936.1 386.3 938.7 387.5C941.3 388.7 941.6 392.9 943.9 394.1C946.2 395.4 949.4 394.6 952.6 395.0C955.8 395.4 959.9 395.8 963.1 396.2C966.3 396.6 968.9 396.5 971.8 397.2C974.7 397.9 977.7 400.0 980.6 400.2C983.5 400.4 986.4 399.8 989.3 398.5C992.2 397.2 995.1 394.6 998.0 392.4C1000.9 390.2 1004.0 387.5 1006.7 385.4C1009.4 383.3 1011.5 382.2 1014.0 380.0C1016.5 377.8 1019.9 374.8 1022.0 372.1C1024.1 369.5 1025.1 367.4 1026.6 364.1C1028.1 360.9 1029.3 356.2 1031.2 352.6C1033.1 349.0 1035.8 345.9 1038.1 342.3C1040.4 338.7 1043.0 334.5 1044.9 330.9C1046.8 327.3 1047.5 325.0 1049.5 320.6C1051.5 316.2 1054.2 310.5 1056.9 304.5C1059.6 298.5 1062.8 291.3 1065.7 284.8C1068.6 278.3 1071.5 270.8 1074.4 265.6C1077.3 260.4 1080.2 257.5 1083.1 253.4C1086.0 249.3 1088.8 245.4 1091.8 241.2C1094.8 237.0 1099.8 230.5 1101.4 228.3" stroke="#D76405"/>
<path d="M66.5 392.0C68.3 390.4 72.8 386.8 77.5 382.4C82.2 378.0 89.4 370.8 94.9 365.8C100.4 360.9 105.4 356.3 110.6 352.7C115.8 349.1 121.1 346.7 126.3 344.0C131.5 341.3 138.1 338.0 142.0 336.6C145.9 335.2 147.4 336.0 150.0 335.9C152.6 335.8 154.7 335.7 157.7 335.8C160.7 335.9 164.5 336.2 168.0 336.5C171.5 336.8 174.6 337.1 178.7 337.8C182.8 338.6 189.1 340.1 192.6 341.0C196.1 341.9 196.1 341.5 199.6 343.1C203.1 344.8 208.9 348.6 213.6 350.9C218.2 353.2 223.1 355.5 227.5 357.1C231.9 358.7 235.7 358.5 239.8 360.5C243.9 362.5 248.6 367.2 252.0 369.3C255.4 371.4 257.4 370.9 260.5 372.8C263.6 374.7 267.4 378.3 270.9 380.6C274.4 382.9 277.9 385.0 281.4 386.7C284.9 388.4 288.4 389.5 291.9 390.6C295.4 391.7 299.5 392.3 302.4 393.2C305.3 394.1 306.4 395.5 309.3 396.0C312.2 396.5 316.0 396.3 319.8 396.3C323.6 396.3 327.9 395.9 332.0 396.0C336.1 396.1 340.7 396.4 344.2 396.7C347.7 397.0 350.1 396.9 353.0 397.7C355.9 398.5 358.8 400.2 361.7 401.6C364.6 403.0 367.8 404.7 370.4 405.9C373.0 407.1 374.2 408.2 377.4 408.9C380.6 409.6 385.8 409.4 389.6 409.9C393.4 410.4 396.6 411.4 400.1 412.0C403.6 412.6 406.5 413.0 410.6 413.4C414.7 413.8 420.4 414.0 424.5 414.1C428.6 414.2 432.4 414.2 435.0 413.8C437.6 413.4 437.4 412.7 440.0 411.6C442.6 410.5 447.0 408.9 450.5 407.3C454.0 405.7 456.8 403.8 460.9 402.0C465.0 400.2 470.2 398.3 474.9 396.4C479.6 394.5 484.5 392.2 488.9 390.7C493.3 389.2 496.8 389.1 501.1 387.2C505.5 385.3 510.6 381.4 515.0 379.3C519.4 377.2 522.9 376.1 527.3 374.5C531.7 372.9 536.6 371.4 541.2 369.7C545.9 367.9 550.6 366.0 555.2 364.0C559.9 362.0 564.5 359.2 569.1 357.5C573.8 355.8 578.4 354.8 583.1 353.5C587.8 352.2 593.0 350.6 597.1 349.7C601.2 348.8 604.3 348.8 607.5 348.4C610.7 348.0 613.1 348.5 616.3 347.1C619.5 345.7 622.8 342.6 626.7 340.1C630.7 337.6 636.0 334.6 640.0 331.9C644.0 329.2 647.3 326.6 650.9 323.8C654.5 321.0 658.2 317.2 661.4 315.0C664.6 312.8 666.6 312.0 670.1 310.7C673.6 309.4 678.3 308.3 682.4 307.2C686.5 306.1 690.5 305.2 694.6 304.2C698.7 303.2 702.4 301.9 706.8 301.1C711.2 300.4 716.1 300.2 720.8 299.7C725.4 299.2 730.1 298.5 734.7 297.9C739.4 297.3 744.1 297.3 748.7 296.2C753.4 295.1 757.7 292.4 762.6 291.5C767.5 290.6 773.6 291.0 778.3 290.6C783.0 290.2 786.2 289.5 790.6 288.9C795.0 288.3 800.4 287.5 804.5 287.1C808.6 286.8 812.1 286.5 815.0 286.8C817.9 287.1 819.4 288.1 822.0 288.9C824.6 289.7 827.4 290.2 830.5 291.7C833.6 293.2 837.4 295.9 840.9 297.8C844.4 299.7 847.6 301.3 851.4 303.0C855.2 304.7 859.5 306.8 863.6 308.2C867.7 309.6 872.0 310.4 875.8 311.7C879.6 313.0 882.8 314.6 886.3 316.1C889.8 317.6 893.0 318.6 896.8 320.5C900.6 322.4 905.5 325.4 909.0 327.4C912.5 329.4 914.8 330.9 917.7 332.7C920.6 334.4 923.6 336.7 926.5 337.9C929.4 339.1 932.0 338.7 935.2 339.7C938.4 340.7 942.2 342.6 945.7 344.0C949.2 345.4 952.6 346.3 956.1 347.9C959.6 349.5 963.1 352.0 966.6 353.6C970.1 355.2 973.9 356.4 977.1 357.6C980.3 358.8 982.9 360.2 985.8 360.8C988.7 361.4 990.9 361.0 994.5 361.1C998.1 361.2 1002.2 361.2 1007.2 361.2C1012.2 361.2 1019.5 361.3 1024.3 361.0C1029.1 360.7 1032.0 360.2 1035.8 359.5C1039.6 358.8 1043.4 357.8 1047.2 356.6C1051.0 355.4 1055.2 353.4 1058.6 352.1C1062.0 350.8 1065.1 349.7 1067.8 349.0C1070.5 348.3 1072.4 348.5 1074.7 347.8C1077.0 347.1 1079.0 345.9 1081.5 344.6C1084.0 343.3 1087.0 341.4 1089.5 340.0C1092.0 338.6 1094.3 337.4 1096.4 336.0C1098.5 334.6 1101.0 332.5 1101.9 331.8" stroke="#C80F82"/>
<path d="M66.5 511.2C68.9 509.4 76.8 503.8 80.9 500.7C85.1 497.6 87.9 495.4 91.4 492.8C94.9 490.2 98.1 487.6 101.9 485.0C105.7 482.4 109.4 479.9 114.1 477.5C118.8 475.1 124.9 472.8 129.8 470.5C134.8 468.2 138.9 466.0 143.8 463.5C148.8 461.0 154.6 458.0 159.5 455.3C164.4 452.6 168.5 449.9 173.4 447.5C178.3 445.1 184.7 442.7 189.1 440.8C193.5 438.9 196.3 438.0 200.0 436.3C203.7 434.6 206.6 432.2 211.4 430.4C216.2 428.6 222.9 427.3 228.6 425.4C234.3 423.5 240.1 421.2 245.8 419.2C251.5 417.2 257.5 415.2 262.9 413.4C268.2 411.6 273.1 409.9 277.9 408.5C282.7 407.1 287.2 405.9 291.9 404.7C296.5 403.5 301.1 402.6 305.8 401.2C310.5 399.8 315.1 398.1 319.8 396.3C324.5 394.5 329.2 392.2 333.8 390.2C338.4 388.2 343.1 385.6 347.7 384.1C352.3 382.6 357.0 381.9 361.7 381.0C366.4 380.1 371.0 379.4 375.7 378.5C380.4 377.6 385.0 376.4 389.6 375.7C394.2 374.9 399.0 374.1 403.6 374.0C408.2 373.9 412.9 374.7 417.5 375.0C422.1 375.3 427.8 375.7 431.5 375.7C435.2 375.7 436.8 375.3 440.0 375.0C443.2 374.7 446.4 374.5 450.5 374.1C454.6 373.7 459.8 372.8 464.4 372.7C469.0 372.6 472.3 373.6 478.4 373.8C484.5 374.0 494.4 373.6 501.1 373.8C507.8 374.0 513.3 374.6 518.5 375.0C523.7 375.4 528.4 375.6 532.5 376.2C536.6 376.8 539.2 378.2 543.0 378.5C546.8 378.8 550.6 378.4 555.2 378.1C559.9 377.8 566.2 377.4 570.9 376.7C575.5 376.0 579.3 374.8 583.1 374.1C586.9 373.4 589.5 373.0 593.6 372.7C597.7 372.4 603.1 372.4 607.5 372.4C611.9 372.4 616.2 373.0 620.0 372.9C623.8 372.8 627.0 372.4 630.5 372.0C634.0 371.6 637.4 371.2 640.9 370.2C644.4 369.2 647.9 367.3 651.4 366.1C654.9 364.9 658.3 363.6 661.8 362.9C665.3 362.2 668.8 362.1 672.3 361.7C675.8 361.3 679.2 361.0 682.7 360.6C686.2 360.2 689.7 360.4 693.2 359.6C696.7 358.8 700.1 357.1 703.6 355.9C707.1 354.7 710.6 353.5 714.1 352.5C717.6 351.5 721.0 350.9 724.5 349.9C728.0 348.9 731.9 347.6 735.0 346.7C738.1 345.8 737.6 346.0 743.4 344.4C749.2 342.8 760.9 339.2 769.6 336.9C778.3 334.6 788.5 332.1 795.8 330.4C803.1 328.6 809.2 327.1 813.2 326.4C817.2 325.7 816.0 326.2 820.0 326.2C824.0 326.2 831.7 326.3 837.5 326.6C843.3 326.9 848.5 327.6 854.9 328.0C861.3 328.4 869.4 329.2 875.8 329.2C882.2 329.2 887.5 328.4 893.3 328.0C899.1 327.6 905.0 327.3 910.8 326.9C916.6 326.5 923.0 326.0 928.2 325.7C933.4 325.4 937.0 325.0 942.2 325.2C947.4 325.4 953.8 326.3 959.6 326.9C965.4 327.5 972.0 328.1 977.1 328.7C982.2 329.3 986.0 330.2 990.0 330.3C994.0 330.4 997.6 329.8 1001.4 329.5C1005.2 329.2 1009.1 329.0 1012.9 328.4C1016.7 327.8 1020.5 326.7 1024.3 326.1C1028.1 325.5 1032.0 325.0 1035.8 324.6C1039.6 324.2 1043.4 324.2 1047.2 323.5C1051.0 322.8 1054.8 321.6 1058.6 320.6C1062.4 319.6 1066.3 318.4 1070.1 317.7C1073.9 317.0 1077.7 316.6 1081.5 316.2C1085.3 315.8 1089.6 315.4 1093.0 315.1C1096.4 314.8 1100.4 314.6 1101.9 314.5" stroke="#006973"/>
</g>
<g id="title" font-size="24" fill="#222">
<text x="509.3" y="30.5" font-size="24.27">中煤能源</text>
<text x="612.7" y="29.6" font-size="23.4" letter-spacing="0.18">601898</text>
<text x="734.7" y="30.5">日</text>
<text x="756" y="30">K</text>
<rect x="712.8" y="13.3" width="1.3" height="17.2" fill="#ECECEC"/>
</g>
<g id="legend" font-size="16.2" fill="#333">
<line x1="383.3" y1="633.3" x2="417.5" y2="633.3" stroke="#32058C" stroke-opacity="0.64" stroke-width="2.8"/>
<circle cx="400.4" cy="633.3" r="7.35" fill="#fff" stroke="#32058C" stroke-width="2.7"/>
<text x="424.1" y="638.0" textLength="36.7" lengthAdjust="spacingAndGlyphs">MA5</text>
<line x1="475.5" y1="633.3" x2="509.7" y2="633.3" stroke="#D76405" stroke-opacity="0.64" stroke-width="2.8"/>
<circle cx="492.6" cy="633.3" r="7.35" fill="#fff" stroke="#D76405" stroke-width="2.7"/>
<text x="515.8" y="638.0" textLength="46.2" lengthAdjust="spacingAndGlyphs">MA10</text>
<line x1="577.1" y1="633.3" x2="611.3" y2="633.3" stroke="#C80F82" stroke-opacity="0.64" stroke-width="2.8"/>
<circle cx="594.2" cy="633.3" r="7.35" fill="#fff" stroke="#C80F82" stroke-width="2.7"/>
<text x="617.9" y="638.0" textLength="46.0" lengthAdjust="spacingAndGlyphs">MA30</text>
<line x1="678.5" y1="633.3" x2="712.7" y2="633.3" stroke="#006973" stroke-opacity="0.64" stroke-width="2.8"/>
<circle cx="695.6" cy="633.3" r="7.35" fill="#fff" stroke="#006973" stroke-width="2.7"/>
<text x="719.5" y="638.0" textLength="45.5" lengthAdjust="spacingAndGlyphs">MA60</text>
</g>
<g id="footer" font-size="18.9" fill="#666">
<text x="486" y="692.8">数据来源：</text>
<text x="586.3" y="692.8">恒生聚源</text>
</g>
</svg></body></html>
